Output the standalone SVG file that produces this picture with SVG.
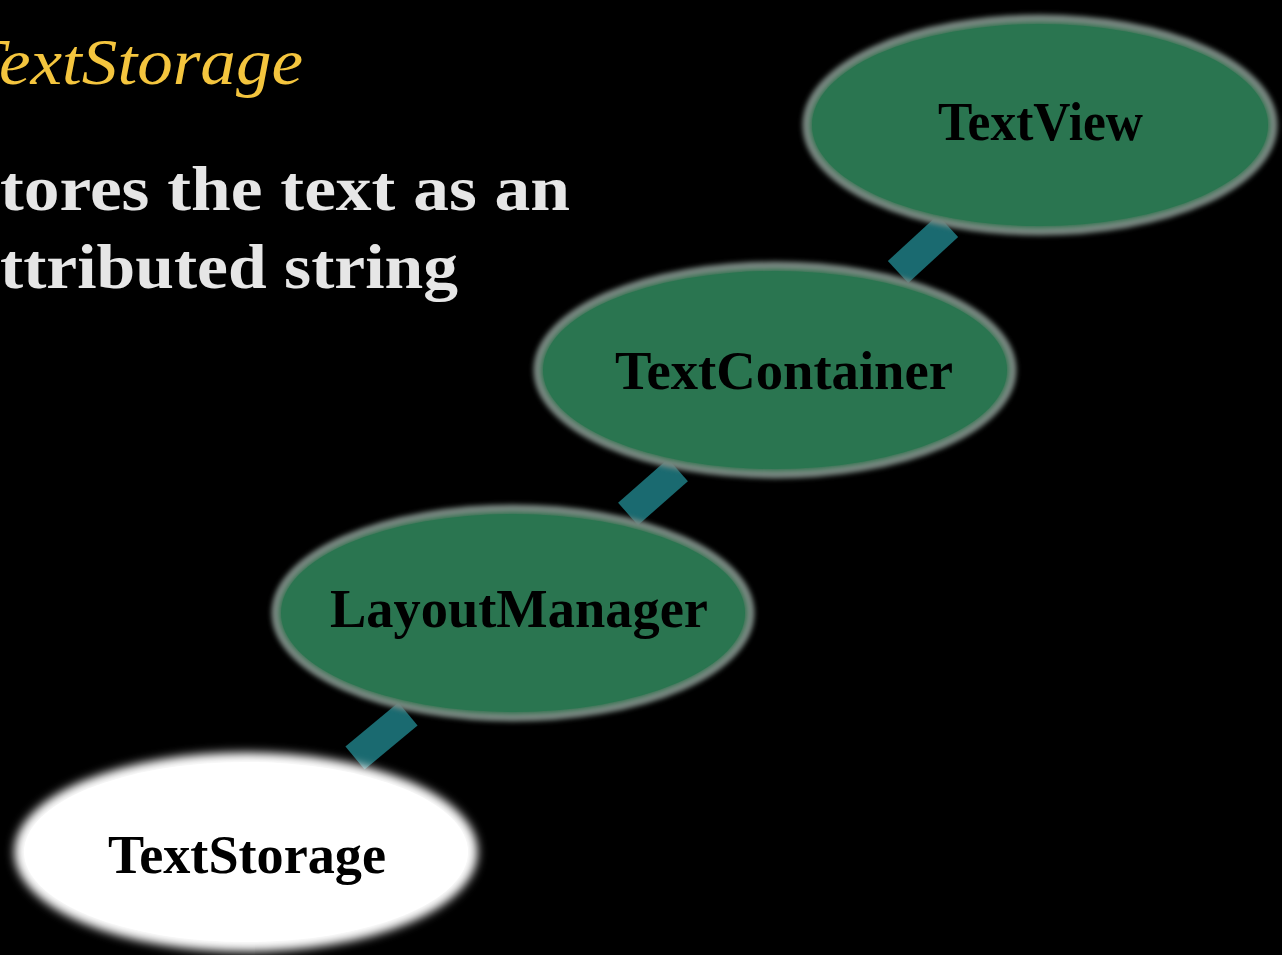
<svg xmlns="http://www.w3.org/2000/svg" width="1282" height="955" viewBox="0 0 1282 955">
<defs>
<filter id="soft" x="-10%" y="-10%" width="120%" height="120%"><feGaussianBlur stdDeviation="2.5"/></filter>
<filter id="softw" x="-10%" y="-10%" width="120%" height="120%"><feGaussianBlur stdDeviation="5"/></filter>
</defs>
<style>
.bg{fill:#000}
.green{fill:#2a7550;stroke:#7c8a84;stroke-width:7}
.inner{fill:#2a7550}
.white{fill:#ffffff;stroke:#d8d8d8;stroke-width:4}
.lbl{font-family:"Liberation Serif",serif;font-weight:bold;fill:#000;font-size:54px}
.title{font-family:"Liberation Serif",serif;font-style:italic;fill:#f4c53e;font-size:66px}
.body{font-family:"Liberation Serif",serif;font-weight:bold;fill:#e6e6e6;font-size:64px}
.conn{stroke:#1a6a70;stroke-width:30;fill:none}
</style>
<rect class="bg" x="0" y="0" width="1282" height="955"/>
<text class="title" x="-34" y="84" textLength="337" lengthAdjust="spacingAndGlyphs">TextStorage</text>
<text class="body" x="0" y="210" textLength="570" lengthAdjust="spacingAndGlyphs">tores the text as an</text>
<text class="body" x="0" y="288" textLength="458" lengthAdjust="spacingAndGlyphs">ttributed string</text>
<g id="connectors">
<line class="conn" x1="898" y1="272" x2="948" y2="226"/>
<line class="conn" x1="628" y1="514" x2="678" y2="470"/>
<line class="conn" x1="355" y1="758" x2="408" y2="714"/>
</g>
<g id="node-textview">
<ellipse class="green" cx="1040" cy="125" rx="234" ry="107" filter="url(#soft)"/>
<ellipse class="inner" cx="1040" cy="125" rx="228" ry="101"/>
<text class="lbl" x="938" y="140" textLength="205" lengthAdjust="spacingAndGlyphs">TextView</text>
</g>
<g id="node-textcontainer">
<ellipse class="green" cx="775" cy="370" rx="238" ry="105" filter="url(#soft)"/>
<ellipse class="inner" cx="775" cy="370" rx="232" ry="99"/>
<text class="lbl" x="615" y="389" textLength="338" lengthAdjust="spacingAndGlyphs">TextContainer</text>
</g>
<g id="node-layoutmanager">
<ellipse class="green" cx="513" cy="613" rx="238" ry="105" filter="url(#soft)"/>
<ellipse class="inner" cx="513" cy="613" rx="232" ry="99"/>
<text class="lbl" x="330" y="627" textLength="378" lengthAdjust="spacingAndGlyphs">LayoutManager</text>
</g>
<g id="node-textstorage">
<ellipse class="white" cx="246" cy="852" rx="230" ry="98" filter="url(#softw)"/>
<ellipse cx="246" cy="852" rx="222" ry="90" fill="#ffffff"/>
<text class="lbl" x="108" y="873" textLength="278" lengthAdjust="spacingAndGlyphs">TextStorage</text>
</g>
</svg>
